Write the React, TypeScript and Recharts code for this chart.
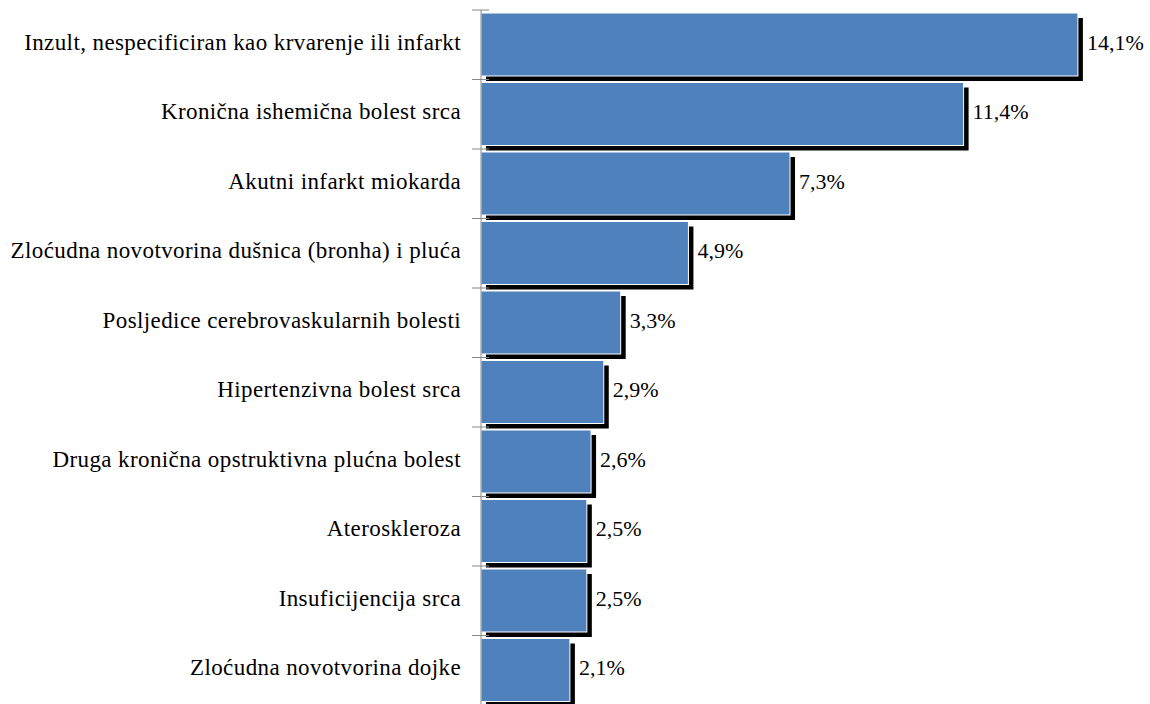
import { BarChart, Bar, XAxis, YAxis, LabelList } from 'recharts';

const causes = [
  'Inzult, nespecificiran kao krvarenje ili infarkt',
  'Kronična ishemična bolest srca',
  'Akutni infarkt miokarda',
  'Zloćudna novotvorina dušnica (bronha) i pluća',
  'Posljedice cerebrovaskularnih bolesti',
  'Hipertenzivna bolest srca',
  'Druga kronična opstruktivna plućna bolest',
  'Ateroskleroza',
  'Insuficijencija srca',
  'Zloćudna novotvorina dojke',
];

const shares = [14.1, 11.4, 7.3, 4.9, 3.3, 2.9, 2.6, 2.5, 2.5, 2.1];

const data = causes.map((name, i) => ({ name, value: shares[i] }));

const FONT = 'Liberation Serif';
const AXIS_X = 481;
const BAND_HALF = 34.75;

const pct = (v: number) => `${String(v).replace('.', ',')}%`;

// bar with the hard black drop shadow
function ShadowBar(props: any) {
  const { x, y, width, height } = props;
  return (
    <g>
      <rect x={x + 5} y={y + 5} width={width} height={height} fill="#000" />
      <rect x={x} y={y} width={width} height={height} fill="#4F81BD" stroke="#fff" strokeWidth={1} />
    </g>
  );
}

// category label plus a tick at the top edge of its band
function CauseTick(props: any) {
  const { x, y, payload } = props;
  const top = y - BAND_HALF;
  return (
    <g>
      <line x1={AXIS_X - 9} x2={AXIS_X + 8} y1={top} y2={top} stroke="#888" strokeWidth={1} />
      <text
        x={x}
        y={y + 5}
        textAnchor="end"
        style={{ fontFamily: FONT, fontSize: 23, letterSpacing: 0.4, fill: '#000' }}
      >
        {payload.value}
      </text>
    </g>
  );
}

function ValueLabel(props: any) {
  const { x, y, width, height, value } = props;
  return (
    <text x={x + width + 9} y={y + height / 2 + 5} style={{ fontFamily: FONT, fontSize: 22, fill: '#000' }}>
      {pct(value)}
    </text>
  );
}

export default function App() {
  return (
    <div style={{ position: 'absolute', left: 0, top: 0, width: 1150, height: 704, overflow: 'hidden', background: '#fff' }}>
      <BarChart
        width={1150}
        height={706}
        data={data}
        layout="vertical"
        margin={{ top: 10, right: 34, bottom: 1, left: 0 }}
      >
        <XAxis type="number" domain={[0, 15]} hide />
        <YAxis
          type="category"
          dataKey="name"
          width={481}
          tickLine={false}
          tickSize={9}
          tickMargin={11}
          axisLine={{ stroke: '#888' }}
          tick={<CauseTick />}
          interval={0}
        />
        <Bar dataKey="value" barSize={63} shape={<ShadowBar />} isAnimationActive={false}>
          <LabelList dataKey="value" content={<ValueLabel />} />
        </Bar>
      </BarChart>
    </div>
  );
}
